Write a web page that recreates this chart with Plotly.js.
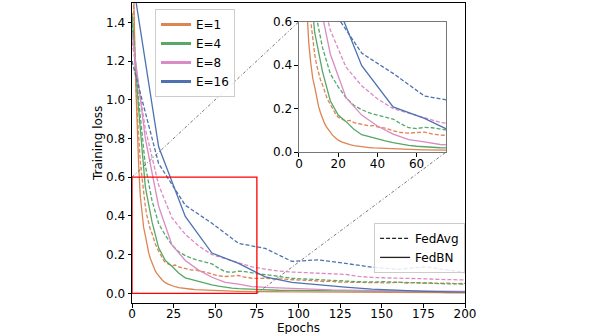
<!DOCTYPE html>
<html>
<head>
<meta charset="utf-8">
<script src="https://cdn.plot.ly/plotly-3.0.1.min.js"></script>
<style>
  html, body { margin: 0; padding: 0; background: #fff; }
  #chart { width: 598px; height: 334px; }
</style>
</head>
<body>
<div id="chart"></div>
<script>
// ---- data ----
const epochsE1 = [0,1,2,3,4,5,6,7,8,9,10,11,12,13,14,15,16,17,18,19,20,
  22,24,26,28,30,32,34,36,38,40,
  44,48,52,56,60,64,68,72,76,80,
  85,90,95,100,105,110,115,120,125,130,135,140,145,150,155,160,165,170,175,180,185,190,195,200];
const fedbnE1 = [2.3,1.55,1.15,0.86,0.66,0.5,0.41,0.34,0.3,0.25,0.21,0.18,0.155,0.133,0.116,0.102,0.09,0.079,0.07,0.062,0.055,
  0.046,0.039,0.034,0.03,0.027,0.025,0.023,0.021,0.019,0.018,
  0.016,0.014,0.013,0.012,0.011,0.01,0.01,0.009,0.009,0.008,
  0.008,0.008,0.007,0.007,0.007,0.006,0.006,0.006,0.006,0.005,0.005,0.005,0.005,0.005,0.004,0.004,0.004,0.004,0.004,0.004,0.004,0.003,0.003,0.003];
const fedavgE1 = [1.8,1.45,1.15,0.95,0.8,0.68,0.6,0.52,0.45,0.4,0.36,0.33,0.31,0.28,0.255,0.235,0.218,0.2,0.185,0.17,0.16,
  0.15,0.142,0.146,0.136,0.132,0.128,0.126,0.12,0.122,0.116,
  0.11,0.098,0.09,0.087,0.09,0.092,0.083,0.078,0.077,0.078,
  0.074,0.075,0.071,0.07,0.068,0.065,0.061,0.062,0.058,0.057,0.056,0.058,0.057,0.055,0.054,0.058,0.053,0.055,0.052,0.054,0.051,0.053,0.05,0.051];

const epochsE4 = [0,4,8,12,16,20,24,28,32,36,40,44,48,52,56,60,64,68,72,76,
  80,88,96,104,112,120,128,136,144,152,160,168,176,184,192,200];
const fedbnE4 = [1.45,0.95,0.55,0.37,0.235,0.17,0.14,0.105,0.08,0.07,0.062,0.052,0.044,0.037,0.031,0.027,0.024,0.022,0.02,0.019,
  0.018,0.016,0.015,0.014,0.013,0.012,0.012,0.011,0.011,0.01,0.01,0.009,0.009,0.009,0.008,0.008];
const fedavgE4 = [1.39,1.0,0.66,0.48,0.36,0.3,0.25,0.215,0.195,0.18,0.17,0.162,0.152,0.13,0.112,0.108,0.114,0.112,0.105,0.1,
  0.097,0.087,0.078,0.074,0.07,0.068,0.064,0.06,0.059,0.06,0.057,0.056,0.054,0.05,0.05,0.048];

const epochsE8 = [0,8,16,24,32,40,48,56,64,72,80,88,96,104,112,120,128,136,144,152,160,168,176,184,192,200];
const fedbnE8 = [1.35,0.8,0.45,0.25,0.17,0.12,0.083,0.057,0.047,0.035,0.031,0.028,0.025,0.022,0.02,0.018,0.017,0.015,0.014,0.013,0.012,0.012,0.011,0.011,0.01,0.01];
const fedavgE8 = [1.3,0.85,0.56,0.39,0.305,0.245,0.2,0.18,0.16,0.137,0.125,0.115,0.11,0.107,0.104,0.102,0.098,0.088,0.082,0.08,0.079,0.077,0.075,0.072,0.07,0.069];

const epochsE16 = [0,16,32,48,64,80,96,112,128,144,160,176,192,200];
const fedbnE16 = [1.64,0.757,0.397,0.208,0.155,0.085,0.057,0.043,0.032,0.022,0.015,0.01,0.007,0.006];
const fedavgE16 = [1.2,0.67,0.455,0.362,0.258,0.232,0.165,0.173,0.155,0.135,0.124,0.137,0.118,0.107];

const labelsE = ["E=1", "E=4", "E=8", "E=16"];
const colorsE = ["#dd8452", "#55a868", "#da8bc3", "#4c72b0"];
const methods = ["FedAvg", "FedBN"];

const xTicks = [0,25,50,75,100,125,150,175,200];
const yTicks = [0,0.2,0.4,0.6,0.8,1.0,1.2,1.4];
const insetXTicks = [0,20,40,60];
const insetYTicks = [0,0.2,0.4,0.6];

// main / zoomed ranges
const xRange = [0, 200], yRange = [-0.05, 1.5];
const zoomX = [0, 75], zoomY = [0, 0.6];
const insetDomX = [0.5015, 0.943], insetDomY = [0.503, 0.938];

const series = [
  [epochsE1, fedavgE1, fedbnE1],
  [epochsE4, fedavgE4, fedbnE4],
  [epochsE8, fedavgE8, fedbnE8],
  [epochsE16, fedavgE16, fedbnE16]
];

var traces = [];
// same curves on the main axes and in the zoomed inset
["", "2"].forEach(function(ax){
  series.forEach(function(s, i){
    traces.push({x: s[0], y: s[1], mode: "lines", showlegend: false, hoverinfo: "skip",
      xaxis: "x" + ax, yaxis: "y" + ax,
      line: {color: colorsE[i], width: 1.3, dash: "4px,2px"}});
    traces.push({x: s[0], y: s[2], mode: "lines", showlegend: false, hoverinfo: "skip",
      xaxis: "x" + ax, yaxis: "y" + ax,
      line: {color: colorsE[i], width: 1.3}});
  });
});

// legend handles
labelsE.forEach(function(lab, i){
  traces.push({x: [null], y: [null], mode: "lines", name: lab, legend: "legend",
    line: {color: colorsE[i], width: 3}});
});
traces.push({x: [null], y: [null], mode: "lines", name: methods[0], legend: "legend2",
  line: {color: "#222", width: 1.3, dash: "4px,2px"}});
traces.push({x: [null], y: [null], mode: "lines", name: methods[1], legend: "legend2",
  line: {color: "#222", width: 1.3}});

function px(x){ return (x - xRange[0]) / (xRange[1] - xRange[0]); }
function py(y){ return (y - yRange[0]) / (yRange[1] - yRange[0]); }

const connStyle = {color: "#666", width: 0.9, dash: "3px,2px,1px,2px"};

var axisBase = {
  showline: true, mirror: true, linecolor: "#000", linewidth: 1,
  ticks: "outside", ticklen: 3.5, tickcolor: "#000", tickwidth: 1,
  showgrid: false, zeroline: false, fixedrange: true
};
// x labels sit close to the axis, so tick marks come from an overlaid axis
var xTickOnly = {showline: false, showgrid: false, zeroline: false, showticklabels: false,
  ticks: "outside", ticklen: 3.5, tickcolor: "#000", tickwidth: 1, fixedrange: true};

var layout = {
  width: 598, height: 334,
  margin: {l: 132, r: 133, t: 3, b: 31},
  paper_bgcolor: "#fff", plot_bgcolor: "#fff",
  font: {family: "DejaVu Sans", size: 12, color: "#000"},
  xaxis: Object.assign({}, axisBase, {range: xRange, domain: [0, 1], anchor: "y",
    tickvals: xTicks, ticks: "", ticklen: 0}),
  yaxis: Object.assign({}, axisBase, {range: yRange, domain: [0, 1], anchor: "x",
    tickvals: yTicks, tickformat: ".1f"}),
  xaxis3: Object.assign({}, xTickOnly, {range: xRange, overlaying: "x", anchor: "y",
    tickvals: xTicks}),
  xaxis2: Object.assign({}, axisBase, {range: zoomX, domain: insetDomX, anchor: "y2",
    tickvals: insetXTicks, linecolor: "#777", ticks: "", ticklen: 0}),
  yaxis2: Object.assign({}, axisBase, {range: zoomY, domain: insetDomY, anchor: "x2",
    tickvals: insetYTicks, tickformat: ".1f", linecolor: "#777"}),
  xaxis4: Object.assign({}, xTickOnly, {range: zoomX, overlaying: "x2", anchor: "y2",
    tickvals: insetXTicks}),
  legend: {x: 0.069, y: 0.98, xanchor: "left", yanchor: "top", itemwidth: 30,
    bgcolor: "rgba(255,255,255,0.85)", bordercolor: "#ccc", borderwidth: 1,
    font: {size: 12}},
  legend2: {x: 0.727, y: 0.267, xanchor: "left", yanchor: "top", itemwidth: 30,
    bgcolor: "rgba(255,255,255,0.85)", bordercolor: "#ccc", borderwidth: 1,
    font: {size: 12}},
  annotations: [
    {text: "Epochs", xref: "paper", yref: "paper", x: 0.5, y: -0.083,
      xanchor: "center", yanchor: "middle", showarrow: false, font: {size: 12}},
    {text: "Training loss", xref: "paper", yref: "paper", x: -0.102, y: 0.53,
      xanchor: "center", yanchor: "middle", textangle: -90, showarrow: false, font: {size: 12}}
  ],
  shapes: [
    {type: "rect", xref: "x", yref: "y", x0: zoomX[0], x1: zoomX[1], y0: zoomY[0], y1: zoomY[1],
      line: {color: "#ff0000", width: 1.3}, layer: "above"},
    {type: "line", xref: "paper", yref: "paper",
      x0: px(zoomX[0]), y0: py(zoomY[1]), x1: insetDomX[0], y1: insetDomY[1], line: connStyle},
    {type: "line", xref: "paper", yref: "paper",
      x0: px(zoomX[1]), y0: py(zoomY[0]), x1: insetDomX[1], y1: insetDomY[0], line: connStyle}
  ]
};

// empty traces so the overlaid tick axes get drawn
traces.push({x: [null], y: [null], xaxis: "x3", yaxis: "y", showlegend: false, hoverinfo: "skip"});
traces.push({x: [null], y: [null], xaxis: "x4", yaxis: "y2", showlegend: false, hoverinfo: "skip"});

Plotly.newPlot("chart", traces, layout, {staticPlot: true, displayModeBar: false});
</script>
</body>
</html>
